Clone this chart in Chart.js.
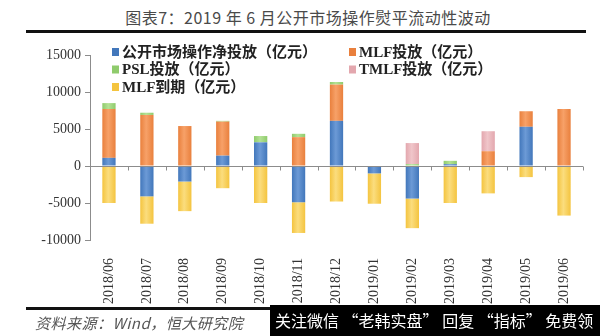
<!DOCTYPE html>
<html>
<head>
<meta charset="utf-8">
<script src="https://cdn.jsdelivr.net/npm/chart.js@4"></script>
<style>
  body { margin: 0; background: #fff; }
  #wrap { position: relative; width: 600px; height: 336px; overflow: hidden; background: #fff; }
  #title { position: absolute; top: 5px; left: 0; width: 616px; text-align: center;
           font: 16px "Noto Sans CJK SC"; color: #4a4a4a; letter-spacing: 0.5px; }
  .rule { position: absolute; height: 3px; background: #111; }
  #source { position: absolute; left: 35px; top: 312px; font: italic 15px "Noto Sans CJK SC"; color: #555; letter-spacing: 0.5px; }
  #mark { position: absolute; left: 270px; top: 305px; width: 330px; height: 31px; background: #000;
          color: #fff; font: 16px "Noto Sans CJK SC"; line-height: 31px; padding-left: 5px;
          white-space: nowrap; overflow: hidden; box-sizing: border-box; }
  canvas { position: absolute; left: 0; top: 0; }
</style>
</head>
<body>
<div id="wrap">
  <div id="title">图表7：2019 年 6 月公开市场操作熨平流动性波动</div>
  <div class="rule" style="top:30px;left:26px;width:560px;"></div>
  <canvas id="chart" width="600" height="336"></canvas>
  <div class="rule" style="top:307px;left:26px;width:250px;"></div>
  <div id="source">资料来源：Wind，恒大研究院</div>
  <div id="mark">关注微信 “老韩实盘” 回复 “指标” 免费领</div>
</div>
<script>
// months
const labels = ['2018/06', '2018/07', '2018/08', '2018/09', '2018/10', '2018/11', '2018/12',
                '2019/01', '2019/02', '2019/03', '2019/04', '2019/05', '2019/06'];

// values in 亿元
const netOmo    = [1100, -4100, -2100, 1400, 3200, -4900, 6100, -1000, -4400, 250, 0, 5300, 0];
const mlfIssue  = [6600, 6900, 5400, 4600, 0, 3900, 4900, 0, 0, 0, 2000, 2100, 7700];
const pslIssue  = [800, 300, 0, 100, 850, 450, 350, 0, 250, 450, 0, 0, 0];
const tmlfIssue = [0, 0, 0, 0, 0, 0, 0, 0, 2850, 0, 2700, 0, 0];
const mlfExpire = [-5000, -3700, -4000, -3000, -5000, -4150, -4800, -4100, -4000, -5000, -3700, -1500, -6700];

const yTicks = [-10000, -5000, 0, 5000, 10000, 15000];

const BAR_PCT = 0.35;

// horizontal shading so the bars look a bit rounded like the original
function barFill(base, light) {
    return function(c) {
        const chart = c.chart;
        if (!chart.chartArea || c.type !== 'data') return base;
        const x = chart.scales.x.getPixelForValue(c.dataIndex);
        const w = chart.scales.x.width / labels.length * BAR_PCT;
        const g = chart.ctx.createLinearGradient(x - w / 2, 0, x + w / 2, 0);
        g.addColorStop(0, base);
        g.addColorStop(0.45, light);
        g.addColorStop(1, base);
        return g;
    };
}

function series(label, data, base, light) {
    return {
        label: label,
        data: data,
        backgroundColor: barFill(base, light),
        legendColor: base,
        borderWidth: 0,
        barPercentage: BAR_PCT,
        categoryPercentage: 1
    };
}

// zero axis with small ticks, and the two-column legend
const decor = {
    id: 'decor',
    afterDatasetsDraw(chart) {
        const { ctx, chartArea, scales } = chart;
        const y0 = Math.round(scales.y.getPixelForValue(0)) + 0.5;
        const step = (chartArea.right - chartArea.left) / labels.length;
        ctx.save();
        ctx.strokeStyle = '#8c8c8c';
        ctx.lineWidth = 1;
        ctx.beginPath();
        ctx.moveTo(chartArea.left, y0);
        ctx.lineTo(chartArea.right, y0);
        for (let i = 1; i <= labels.length; i++) {
            const px = Math.round(chartArea.left + step * i) + 0.5;
            ctx.moveTo(px, y0);
            ctx.lineTo(px, y0 + 4);
        }
        ctx.stroke();
        ctx.restore();
    },
    afterDraw(chart) {
        const ctx = chart.ctx;
        const cols = [112, 349];
        ctx.save();
        ctx.font = 'bold 15px "Liberation Serif", "Noto Sans CJK SC"';
        ctx.textBaseline = 'middle';
        chart.data.datasets.forEach(function(ds, i) {
            const x = cols[i % 2];
            const y = 52 + Math.floor(i / 2) * 17.5;
            ctx.fillStyle = ds.legendColor;
            ctx.fillRect(x, y - 4, 7, 8);
            ctx.fillStyle = '#222';
            ctx.fillText(ds.label, x + 10, y + 1);
        });
        ctx.restore();
    }
};

Chart.defaults.font.family = '"Liberation Serif", "Noto Sans CJK SC"';
Chart.defaults.color = '#333';

new Chart(document.getElementById('chart'), {
    type: 'bar',
    data: {
        labels: labels,
        datasets: [
            series('公开市场操作净投放（亿元）', netOmo, '#4277bb', '#6c9ad6'),
            series('MLF投放（亿元）', mlfIssue, '#e9803d', '#f7a168'),
            series('PSL投放（亿元）', pslIssue, '#8fcb6c', '#b4e295'),
            series('TMLF投放（亿元）', tmlfIssue, '#e3a7ae', '#f0c6ca'),
            series('MLF到期（亿元）', mlfExpire, '#f4c43f', '#fbdd7e')
        ]
    },
    options: {
        responsive: false,
        animation: false,
        devicePixelRatio: 1,
        layout: { padding: { left: 10, right: 17, top: 55, bottom: 0 } },
        plugins: { legend: { display: false }, tooltip: { enabled: false } },
        scales: {
            x: {
                stacked: true,
                grid: { display: false },
                border: { display: false },
                ticks: { minRotation: 90, maxRotation: 90, padding: 10, font: { size: 14 }, color: '#333' },
                afterFit: function(s) { s.height = 96; }
            },
            y: {
                stacked: true,
                min: -10000,
                max: 15000,
                afterBuildTicks: function(s) { s.ticks = yTicks.map(v => ({ value: v })); },
                grid: { drawOnChartArea: false, drawTicks: true, tickLength: 5, tickColor: '#8c8c8c' },
                border: { display: true, color: '#8c8c8c' },
                ticks: { padding: 4, font: { size: 14 }, color: '#333', callback: v => String(v) },
                afterFit: function(s) { s.width = 80; }
            }
        }
    },
    plugins: [decor]
});
</script>
</body>
</html>
